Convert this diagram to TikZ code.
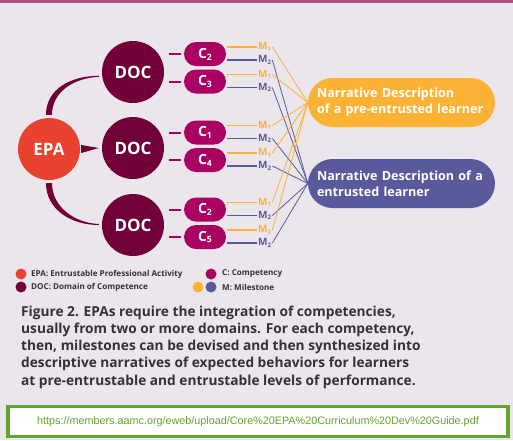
\documentclass[tikz,border=0pt]{standalone}
\usepackage{fontspec}
\setsansfont{Open Sans}
\newfontfamily\urlfont{Liberation Sans}
\usepackage{xcolor}
\usetikzlibrary{backgrounds}

\definecolor{panelbg}{RGB}{234,230,236}
\definecolor{topbar}{RGB}{170,80,128}
\definecolor{epared}{RGB}{233,66,48}
\definecolor{docred}{RGB}{114,0,56}
\definecolor{compred}{RGB}{170,0,98}
\definecolor{mileorange}{RGB}{252,178,52}
\definecolor{mileblue}{RGB}{88,90,155}
\definecolor{captext}{RGB}{52,50,52}
\definecolor{urlgreen}{RGB}{98,164,46}

\newcommand{\sub}[1]{\raisebox{-0.25ex}{\fontsize{0.62em}{1em}\selectfont#1}}

\begin{document}
\begin{tikzpicture}[x=1pt, y=-1pt,
  epa/.style={circle, fill=epared, text=white, minimum size=62pt, inner sep=0pt,
              font=\sffamily\bfseries\fontsize{17}{17}\selectfont},
  doc/.style={circle, fill=docred, text=white, minimum size=62pt, inner sep=0pt,
              font=\sffamily\bfseries\fontsize{17}{17}\selectfont},
  comp/.style={fill=compred, rounded corners=12pt, minimum width=42pt, minimum height=24pt,
               inner sep=0pt, text=white, font=\sffamily\bfseries\fontsize{14}{14}\selectfont},
  mile/.style={anchor=west, inner sep=1pt, font=\sffamily\bfseries\fontsize{10}{10}\selectfont},
  narr/.style={rounded corners=24.5pt, minimum width=187pt, minimum height=49pt, inner xsep=9pt,
               text width=169pt, align=left, text=white,
               font=\sffamily\bfseries\fontsize{12.6}{16}\selectfont},
  link/.style={fill=docred},
  tick/.style={draw=compred, line width=2pt},
  bar/.style={line width=1.8pt},
  feed/.style={line width=0.8pt},
  dot/.style={circle, minimum size=11pt, inner sep=0pt},
  legtxt/.style={anchor=west, inner sep=0pt, text=captext,
                 font=\sffamily\bfseries\fontsize{8.1}{8.1}\selectfont},
  caption/.style={anchor=north west, inner sep=0pt, align=left, text=captext,
                  font=\sffamily\bfseries\fontsize{13.7}{17.1}\selectfont},
  urlbox/.style={draw=urlgreen, line width=3.5pt, fill=white, minimum width=500pt,
                 minimum height=30pt, text=urlgreen, font=\urlfont\fontsize{10.8}{10.8}\selectfont}
]
  \useasboundingbox (0,0) rectangle (513,440);
  \fill[panelbg] (0,0) rectangle (513,440);
  \fill[topbar] (0,0) rectangle (513,2.5);

  % EPA and its domains
  \node[epa] (epa) at (49,149) {EPA};
  \node[doc] (doc1) at (133,72) {DOC};
  \node[doc] (doc2) at (133,148) {DOC};
  \node[doc] (doc3) at (133,225) {DOC};

  \fill[link] ([shift={(-3,-3)}]epa.north) .. controls +(0,-26) and +(-28,0) .. ([xshift=-3pt]doc1.187)
    -- ([shift={(-3,1)}]doc1.187) .. controls +(-25,1) and +(0,-23) .. ([shift={(3,-3)}]epa.north) -- cycle;
  \fill[link] ([shift={(1,-4)}]epa.east) -- ([xshift=-3pt]doc2.west) -- ([shift={(1,4)}]epa.east) -- cycle;
  \fill[link] ([shift={(-3,3)}]epa.south) .. controls +(0,26) and +(-28,0) .. ([xshift=-3pt]doc3.west)
    -- ([shift={(-3,-1)}]doc3.west) .. controls +(-25,-1) and +(0,23) .. ([shift={(3,3)}]epa.south) -- cycle;

  % narratives
  \node[narr, fill=mileorange] (pre) at (401.5,102.5) {Narrative Description\\of a pre-entrusted learner};
  \node[narr, fill=mileblue] (ent) at (401.5,183.5) {Narrative Description of a\\entrusted learner};

  % competencies and milestones
  \foreach \n/\yc/\lbl in {1/54/2, 2/81.5/3, 3/132.5/1, 4/160/4, 5/209.5/2, 6/237/5} {
    \node[comp] (c\n) at (205,\yc) {C\sub{\lbl}};
    \draw[tick] ([xshift=-15pt]c\n.west) -- ([xshift=-3pt]c\n.west);
    \node[mile, text=mileorange] (ma\n) at (257,\yc-7) {M\sub{1}};
    \node[mile, text=mileblue] (mb\n) at (257,\yc+6) {M\sub{2}};
    \draw[bar, mileorange] ([xshift=1pt]c\n.east |- ma\n.west) -- (ma\n.west);
    \draw[bar, mileblue] ([xshift=1pt]c\n.east |- mb\n.west) -- (mb\n.west);
    \draw[feed, mileorange] (ma\n.east) -- (pre.west);
    \draw[feed, mileblue] (mb\n.east) -- (ent.west);
  }

  % legend
  \node[dot, fill=epared] (k1) at (21,274) {};
  \node[legtxt] (kt1) at (31,274) {EPA: Entrustable Professional Activity};
  \node[dot, fill=docred] (k2) at (21,287) {};
  \node[legtxt] (kt2) at (31,287) {DOC: Domain of Competence};
  \node[dot, fill=compred] (k3) at (211,274) {};
  \node[legtxt] (kt3) at (222,274) {C: Competency};
  \node[dot, fill=mileorange] (k4) at (198,287) {};
  \node[dot, fill=mileblue] (k5) at (211,287) {};
  \node[legtxt] (kt4) at (222,287) {M: Milestone};

  \node[caption] (cap) at (21,306) {Figure 2. EPAs require the integration of competencies,\\
    usually from two or more domains. For each competency,\\
    then, milestones can be devised and then synthesized into\\
    descriptive narratives of expected behaviors for learners\\
    at pre-entrustable and entrustable levels of performance.};

  \node[urlbox] (url) at (258,421.5) {https://members.aamc.org/eweb/upload/Core\%20EPA\%20Curriculum\%20Dev\%20Guide.pdf};
\end{tikzpicture}
\end{document}
